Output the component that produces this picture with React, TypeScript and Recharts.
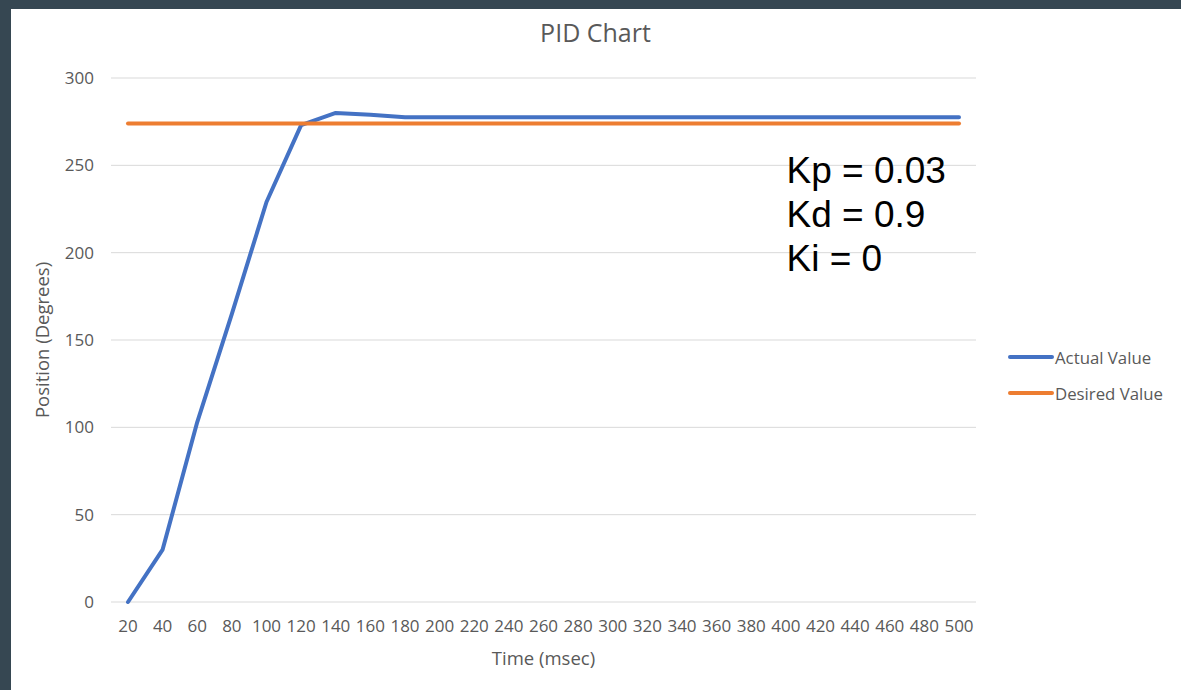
import { CartesianGrid, Legend, Line, LineChart, XAxis, YAxis } from 'recharts';

const times = [
  20, 40, 60, 80, 100, 120, 140, 160, 180, 200, 220, 240, 260, 280, 300, 320, 340, 360, 380, 400, 420, 440,
  460, 480, 500,
];
const actualValues = [
  0, 30, 103, 165, 229, 273, 280, 279, 277.5, 277.5, 277.5, 277.5, 277.5, 277.5, 277.5, 277.5, 277.5, 277.5,
  277.5, 277.5, 277.5, 277.5, 277.5, 277.5, 277.5,
];
const desiredValues = times.map(() => 274);
const yTicks = [0, 50, 100, 150, 200, 250, 300];
const gains = ['Kp = 0.03', 'Kd = 0.9', 'Ki = 0'];

const data = times.map((t, i) => ({ t, actual: actualValues[i], desired: desiredValues[i] }));

const FONT = '"Open Sans", sans-serif';
const GREY = '#595959';
const BLUE = '#4472c4';
const ORANGE = '#ed7d31';

const series = [
  { key: 'actual', name: 'Actual Value', color: BLUE },
  { key: 'desired', name: 'Desired Value', color: ORANGE },
];

function YTitle(props: any) {
  const vb = props.viewBox;
  const cy = vb.y + vb.height / 2;
  return (
    <text
      x={38.3}
      y={cy}
      transform={`rotate(-90, 38.3, ${cy})`}
      textAnchor="middle"
      fill={GREY}
      fontSize={18.5}
      fontFamily={FONT}
    >
      Position (Degrees)
    </text>
  );
}

function XTitle(props: any) {
  const vb = props.viewBox;
  return (
    <text x={vb.x + vb.width / 2} y={655.5} textAnchor="middle" fill={GREY} fontSize={18.5} fontFamily={FONT}>
      Time (msec)
    </text>
  );
}

function LegendBox() {
  return (
    <div style={{ fontFamily: FONT, fontSize: 16.8, color: GREY }}>
      {series.map((s) => (
        <div key={s.key} style={{ display: 'flex', alignItems: 'center', height: 36 }}>
          <svg width={47} height={10}>
            <line x1={2} y1={5} x2={44} y2={5} stroke={s.color} strokeWidth={4} strokeLinecap="round" />
          </svg>
          <span>{s.name}</span>
        </div>
      ))}
    </div>
  );
}

export default function App() {
  return (
    <div style={{ position: 'fixed', left: 0, top: 0, width: 1181, height: 690, background: '#364752' }}>
      <div style={{ position: 'absolute', left: 11, top: 9, width: 1170, height: 681, background: '#fff' }}>
        <LineChart width={1170} height={681} data={data} margin={{ top: 69, right: 205, left: 0, bottom: 0 }}>
          <CartesianGrid vertical={false} stroke="#d9d9d9" strokeWidth={1} />
          <XAxis
            dataKey="t"
            height={88}
            interval={0}
            padding={{ left: 17, right: 17 }}
            axisLine={false}
            tickLine={false}
            tickSize={0}
            tickMargin={18}
            tick={{ fill: GREY, fontSize: 17, fontFamily: FONT }}
            label={<XTitle />}
          />
          <YAxis
            width={100}
            domain={[0, 300]}
            ticks={yTicks}
            axisLine={false}
            tickLine={false}
            tickSize={0}
            tickMargin={17}
            tick={{ fill: GREY, fontSize: 17, fontFamily: FONT }}
            label={<YTitle />}
          />
          <Legend
            layout="vertical"
            align="center"
            verticalAlign="middle"
            content={<LegendBox />}
            wrapperStyle={{ left: 997, top: 330, width: 170 }}
          />
          {series.map((s) => (
            <Line
              key={s.key}
              type="linear"
              dataKey={s.key}
              name={s.name}
              stroke={s.color}
              strokeWidth={4}
              strokeLinecap="round"
              strokeLinejoin="round"
              dot={false}
              activeDot={false}
              isAnimationActive={false}
            />
          ))}
        </LineChart>
        <svg
          width={1170}
          height={681}
          style={{ position: 'absolute', left: 0, top: 0, pointerEvents: 'none' }}
        >
          <text x={584.5} y={33.3} textAnchor="middle" fill={GREY} fontSize={25} fontFamily={FONT}>
            PID Chart
          </text>
          {gains.map((g, i) => (
            <text
              key={g}
              x={775.5}
              y={173.5 + i * 44}
              fill="#000"
              fontSize={37}
              fontFamily='"Liberation Sans", Arial, sans-serif'
            >
              {g}
            </text>
          ))}
        </svg>
      </div>
    </div>
  );
}
